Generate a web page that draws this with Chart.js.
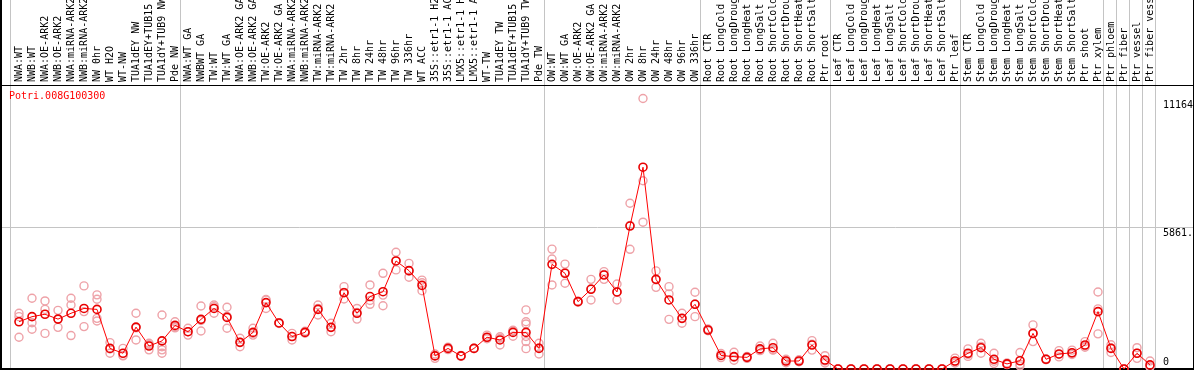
<!DOCTYPE html>
<html><head><meta charset="utf-8">
<script src="https://cdn.jsdelivr.net/npm/chart.js@4.4.1/dist/chart.umd.min.js"></script>
<style>
html,body{margin:0;padding:0;background:#fff;}
#wrap{position:relative;width:1194px;height:370px;box-sizing:border-box;border-left:2px solid #000;border-right:1px solid #000;overflow:hidden;}
#title{position:absolute;left:7px;top:91px;font-family:"DejaVu Sans Mono",monospace;font-size:10px;line-height:10px;color:#ff0000;white-space:pre;}
canvas{display:block;}
</style></head><body>
<div id="wrap"><canvas id="c" width="1191" height="370"></canvas><div id="title">Potri.008G100300</div></div>
<script>
const categories = [
 'NWA:WT','NWB:WT','NWA:OE-ARK2','NWB:OE-ARK2','NWA:miRNA-ARK2','NWB:miRNA-ARK2','NW 0hr','WT H2O','WT-NW','TUA1dEY NW','TUA1dEY+TUB15 NW','TUA1dY+TUB9 NW','Pde NW',
 'NWA:WT GA','NWBWT GA','TW:WT','TW:WT GA','NWA:OE-ARK2 GA','NWB:OE-ARK2 GA','TW:OE-ARK2','TW:OE-ARK2 GA','NWA:miRNA-ARK2 GA','NWB:miRNA-ARK2 GA','TW:miRNA-ARK2','TW:miRNA-ARK2 GA',
 'TW 2hr','TW 8hr','TW 24hr','TW 48hr','TW 96hr','TW 336hr','WT ACC','35S::etr1-1 H2O','35S::etr1-1 ACC','LMX5::etr1-1 H2O','LMX5::etr1-1 ACC','WT-TW','TUA1dEY TW','TUA1dEY+TUB15 TW','TUA1dY+TUB9 TW','Pde TW',
 'OW:WT','OW:WT GA','OW:OE-ARK2','OW:OE-ARK2 GA','OW:miRNA-ARK2','OW:miRNA-ARK2 GA','OW 2hr','OW 8hr','OW 24hr','OW 48hr','OW 96hr','OW 336hr',
 'Root CTR','Root LongCold','Root LongDrought','Root LongHeat','Root LongSalt','Root ShortCold','Root ShortDrought','Root ShortHeat','Root ShortSalt','Ptr root',
 'Leaf CTR','Leaf LongCold','Leaf LongDrought','Leaf LongHeat','Leaf LongSalt','Leaf ShortCold','Leaf ShortDrought','Leaf ShortHeat','Leaf ShortSalt','Ptr leaf',
 'Stem CTR','Stem LongCold','Stem LongDrought','Stem LongHeat','Stem LongSalt','Stem ShortCold','Stem ShortDrought','Stem ShortHeat','Stem ShortSalt','Ptr shoot',
 'Ptr xylem','Ptr phloem','Ptr fiber','Ptr vessel','Ptr fiber vessel'
];
const means = [
 1950,2160,2260,2060,2300,2500,2460,850,650,1730,950,1160,1800,
 1540,2050,2500,2130,1100,1510,2740,1900,1340,1510,2460,1720,3150,2300,2990,3190,4460,4060,3450,540,850,540,850,1310,1200,1510,1510,850,
 4320,3950,2780,3290,3880,3180,5900,8330,3700,2850,2090,2670,
 1610,560,510,480,830,880,330,330,990,370,
 0,0,0,0,0,0,0,0,0,330,
 650,880,400,210,340,1470,400,620,670,990,
 2370,850,0,650,170
];
const replicates = [
 [2300,2160,1310],[2920,1910,1640],[2810,2460,1470],[2420,1720,2060],[2920,2640,1380],[3430,2370,1750],[3060,2880,2090,1980],
 [1090,830,650],[850,540,560],[2300,1200,1700],[1060,790,1000],[2230,920,790,650],[1950,1750,1700],
 [1680,1400,1540],[2600,1570,2000],[2640,2300,2570],[2550,1680,2170],[1270,920,1100],[1680,1470,1400],[2850,2500,2870],
 [1910,1900,1880],[1470,1200,1340],[1560,1480,1500],[2640,2230,2500],[1890,1540,1720],[3400,2890,3160],[2500,2060,2330],
 [3470,2670,2830],[3950,3050,2610],[4820,4090,4470],[4360,3790,4040],[3670,3560,3230],[440,560,620],[800,900,850],
 [520,560,540],[850,860,840],[1400,1300,1250],[1270,990,1330],[1600,1350,1580],[2440,1950,1860,1340,1130,840],[1060,620,870],
 [4950,4540,3470],[4330,3540,3980],[2800,2760,2780],[3700,2850,3310],[4020,3700,3900],[3510,2850,3180],[6840,4940,5930],
 [11164,7770,6060],[4050,3370,3690],[3400,3100,2050],[2300,1890,2090],[3170,2160,2680],
 [1650,1580,1600],[640,470,560],[690,480,360],[520,440,480],[950,760,780],[1060,800,780],[400,260,330],[380,300,310],[1170,780,1020],[550,250,330],
 [0,0,0],[0,0,0],[0,0,0],[0,0,0],[0,0,0],[0,0,0],[0,0,0],[0,0,0],[0,0,0],[450,250,300],
 [830,520,600],[1060,650,930],[650,230,320],[250,180,200],[680,130,200],[1820,1130,1470],[420,380,400],[760,500,600],[780,600,640],[1130,900,950],
 [3180,2480,1450],[1000,870,680],[0,0,0],[880,650,440],[330,100,80]
];
const groupEnds = [12, 40, 52, 62, 72, 83, 84, 85, 86, 87];
const yTickValues = [0, 5861.5, 11164];
const yTickLabels = ['0', '5861.', '11164'];

const MONO = 'DejaVu Sans Mono';
const STEP = 13, FIRST = 17, W = 1191;
const XMIN = -FIRST / STEP, XMAX = XMIN + W / STEP;
const YMAX = 11723;
const GRID = '#c4c4c4';
const sepValues = [XMIN + 8 / STEP].concat(groupEnds.map(e => e + 5 / STEP));

const meanPts = means.map((v, i) => ({x: i, y: v}));
const repPts = replicates.flatMap((arr, i) => arr.map(v => ({x: i, y: v})));

function noPad(s) { s.paddingLeft = 0; s.paddingRight = 0; s.paddingTop = 0; s.paddingBottom = 0; }

new Chart(document.getElementById('c'), {
  data: {
    datasets: [
      {type: 'line', label: 'mean', data: meanPts, order: 1, xAxisID: 'x', yAxisID: 'y',
       borderColor: '#ff0000', borderWidth: 1, tension: 0, clip: false,
       pointStyle: 'circle', pointRadius: 4, pointBorderColor: '#e80000', pointBorderWidth: 1.6,
       pointBackgroundColor: 'rgba(0,0,0,0)'},
      {type: 'scatter', label: 'replicates', data: repPts, order: 2, xAxisID: 'x', yAxisID: 'y',
       showLine: false, clip: false,
       pointStyle: 'circle', pointRadius: 4, pointBorderColor: '#eea2a8', pointBorderWidth: 1.4,
       pointBackgroundColor: 'rgba(0,0,0,0)'}
    ]
  },
  options: {
    responsive: false, animation: false, devicePixelRatio: 1,
    layout: {autoPadding: false, padding: {left: 0, right: 0, top: 0, bottom: 1}},
    plugins: {legend: {display: false}, tooltip: {enabled: false}, title: {display: false}},
    events: [],
    scales: {
      x: {
        type: 'linear', position: 'top', weight: 1, min: XMIN, max: XMAX,
        afterBuildTicks: (s) => { s.ticks = categories.map((_, i) => ({value: i})); },
        afterFit: (s) => { s.height = 85; noPad(s); },
        ticks: {autoSkip: false, minRotation: 90, maxRotation: 90, padding: 3, labelOffset: 12, color: '#000',
                font: {family: MONO, size: 10}, callback: (v) => categories[v]},
        grid: {display: false, drawTicks: false},
        border: {display: true, color: '#000', width: 1}
      },
      xs: {
        type: 'linear', position: 'top', weight: 0, min: XMIN, max: XMAX,
        afterBuildTicks: (s) => { s.ticks = sepValues.map(v => ({value: v})); },
        afterFit: (s) => { s.height = 0; noPad(s); },
        ticks: {display: false},
        grid: {display: true, color: GRID, lineWidth: 1, drawTicks: true, tickLength: 85, tickColor: GRID},
        border: {display: false}
      },
      xb: {
        type: 'linear', position: 'bottom', min: XMIN, max: XMAX,
        afterFit: (s) => { s.height = 0; noPad(s); },
        ticks: {display: false},
        grid: {display: false, drawTicks: false},
        border: {display: true, color: '#000', width: 2}
      },
      y: {
        type: 'linear', position: 'right', min: 0, max: YMAX,
        afterBuildTicks: (s) => { s.ticks = [{value: yTickValues[1]}]; },
        afterFit: (s) => { s.width = 0; noPad(s); },
        ticks: {display: false},
        grid: {display: true, color: GRID, lineWidth: 1, drawTicks: false},
        border: {display: false}
      },
      yl: {
        type: 'linear', position: 'right', min: 0, max: YMAX,
        afterBuildTicks: (s) => { s.ticks = yTickValues.map(v => ({value: v})); },
        afterFit: (s) => { s.width = 0; noPad(s); },
        ticks: {mirror: true, crossAlign: 'far', padding: 0, color: '#000',
                font: {family: MONO, size: 10, lineHeight: 1.3},
                callback: (v) => {
                  const i = yTickValues.indexOf(v);
                  const t = yTickLabels[i];
                  return v === 0 ? [t, ''] : ['', t];
                }},
        grid: {display: false, drawTicks: false},
        border: {display: false}
      }
    }
  }
});
</script>
</body></html>
